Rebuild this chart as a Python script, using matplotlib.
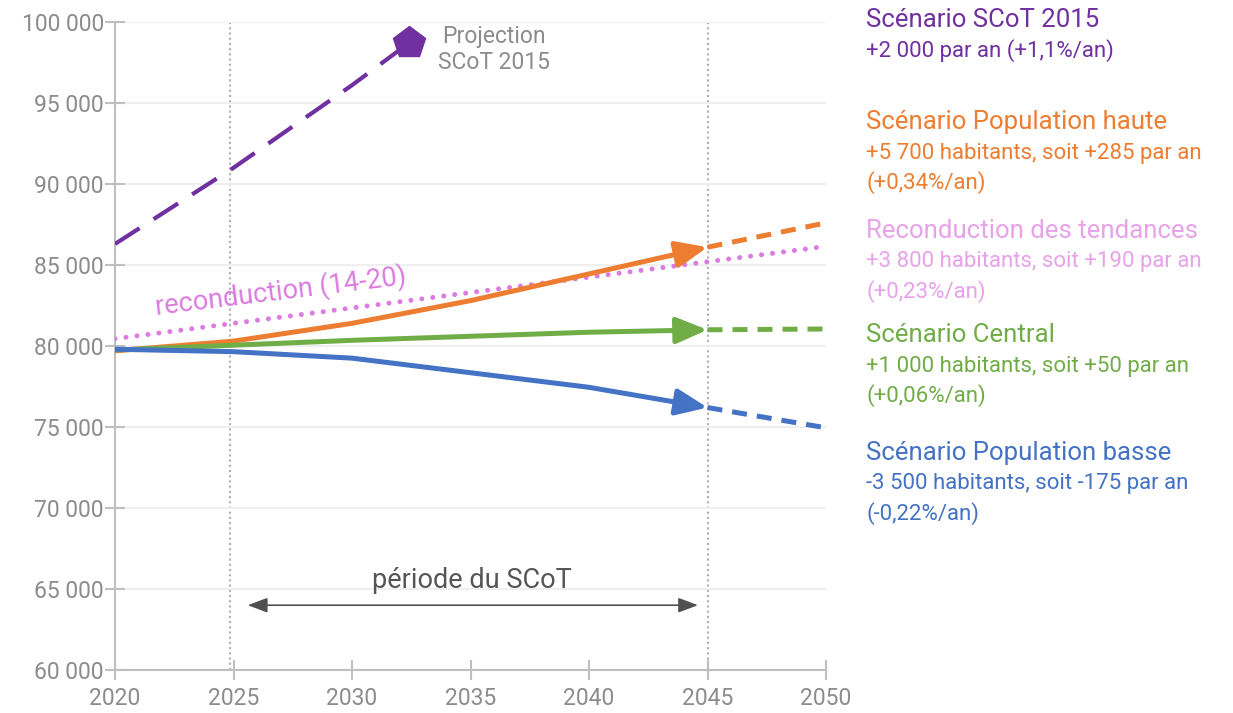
import numpy as np
import matplotlib.pyplot as plt
from matplotlib.ticker import FuncFormatter

plt.rcParams['font.family'] = ['Roboto', 'DejaVu Sans']

# data
years = [2020, 2025, 2030, 2035, 2040, 2045]
haute = [79700, 80300, 81400, 82800, 84450, 86100]
central = [79750, 80050, 80350, 80600, 80850, 81000]
basse = [79800, 79650, 79250, 78350, 77450, 76200]

ext_years = [2045, 2050]
haute_ext = [86100, 87600]
central_ext = [81000, 81050]
basse_ext = [76200, 74950]

tend_years = [2020, 2050]
tendance = [80450, 86150]

scot_years = [2020, 2025, 2030, 2032.4]
scot = [86300, 91000, 96100, 98700]

purple = '#7030A0'
orange = '#ED7D31'
pink = '#DC7BE0'
pink_txt = '#E8A2EA'
green = '#70AD47'
blue = '#4472C4'
grey = '#8c8c8c'
W = 'normal'

fig = plt.figure(figsize=(12.33, 7.13), dpi=100)
ax = fig.add_axes([115/1233, 1-670/713, (826-115)/1233, (670-22)/713])

ax.set_xlim(2020, 2050)
ax.set_ylim(60000, 100000)
ax.set_yticks(range(60000, 100001, 5000))
ax.set_xticks(range(2020, 2051, 5))
ax.yaxis.set_major_formatter(FuncFormatter(lambda v, p: f"{int(v):,}".replace(',', ' ')))
ax.grid(axis='y', color='#efefef', lw=1.5, zorder=0)
for s in ['top', 'right']:
    ax.spines[s].set_visible(False)
for s in ['left', 'bottom']:
    ax.spines[s].set_color('#bfbfbf')
    ax.spines[s].set_linewidth(1.5)
ax.tick_params(direction='inout', length=14, width=1.5, color='#bfbfbf',
               labelcolor=grey, labelsize=16.5)
ax.tick_params(axis='y', pad=1)
ax.tick_params(axis='x', pad=5)
for lab in ax.get_xticklabels() + ax.get_yticklabels():
    lab.set_fontweight(W)

# vertical period markers
for x in [2024.85, 2045]:
    ax.axvline(x, color='#b0b0b0', lw=1.5, ls=(0, (1, 1.5)), zorder=1)

# SCoT 2015 projection
ax.plot(scot_years, scot, color=purple, lw=3, ls=(0, (7, 4)), zorder=3)
ax.plot(scot_years[-1], scot[-1], marker='p', ms=24, color=purple, zorder=4)
ax.text(2036.0, 98300, 'Projection\nSCoT 2015', color=grey, fontsize=16.5,
        fontweight=W, ha='center', va='center', linespacing=1.2)

# trend continuation
ax.plot(tend_years, tendance, color=pink, lw=3.6, ls=(0, (0.01, 2.2)),
        dash_capstyle='round', zorder=3)
ax.text(2027.0, 83350, 'reconduction (14-20)', color=pink, fontsize=19.5,
        fontweight=W, rotation=7, ha='center', va='center')

# scenarios
for ys, ext, col in [(haute, haute_ext, orange), (central, central_ext, green),
                     (basse, basse_ext, blue)]:
    x0 = 2043.5
    y0 = np.interp(x0, years, ys)
    ax.plot([y for y in years if y <= x0] + [x0],
            [v for y, v in zip(years, ys) if y <= x0] + [y0],
            color=col, lw=3.6, solid_capstyle='butt', solid_joinstyle='round', zorder=5)
    ax.annotate('', xy=(years[-1], ys[-1]), xytext=(x0, y0),
                arrowprops=dict(arrowstyle='-|>,head_length=1.9,head_width=0.8',
                                color=col, lw=3.6, shrinkA=0, shrinkB=0,
                                mutation_scale=10), zorder=6)
    ax.plot(ext_years, ext, color=col, lw=3.6, ls=(0, (3, 2)), zorder=5)

# SCoT period arrow
ax.annotate('', xy=(2025.6, 64000), xytext=(2044.6, 64000),
            arrowprops=dict(arrowstyle='<|-|>,head_length=1.2,head_width=0.45',
                            color='#505050', lw=1.2, shrinkA=0, shrinkB=0,
                            mutation_scale=10))
ax.text(2035.05, 65500, 'période du SCoT', color='#555555', fontsize=19.5,
        fontweight=W, ha='center', va='center')

# right-hand annotations
blocks = [
    (purple, 'Scénario SCoT 2015', ['+2 000 par an (+1,1%/an)'], 20),
    (orange, 'Scénario Population haute',
     ['+5 700 habitants, soit +285 par an', '(+0,34%/an)'], 122),
    (pink_txt, 'Reconduction des tendances',
     ['+3 800 habitants, soit +190 par an', '(+0,23%/an)'], 231),
    (green, 'Scénario Central',
     ['+1 000 habitants, soit +50 par an', '(+0,06%/an)'], 335),
    (blue, 'Scénario Population basse',
     ['-3 500 habitants, soit -175 par an', '(-0,22%/an)'], 453),
]
for col, title, lines, ty in blocks:
    fig.text(866/1233, 1-ty/713, title, color=col, fontsize=18.5,
             fontweight=W, ha='left', va='center')
    for i, l in enumerate(lines):
        fig.text(866/1233, 1-(ty+31+30*i)/713, l, color=col, fontsize=16,
                 fontweight=W, ha='left', va='center')

fig.savefig('out.png', dpi=100)
